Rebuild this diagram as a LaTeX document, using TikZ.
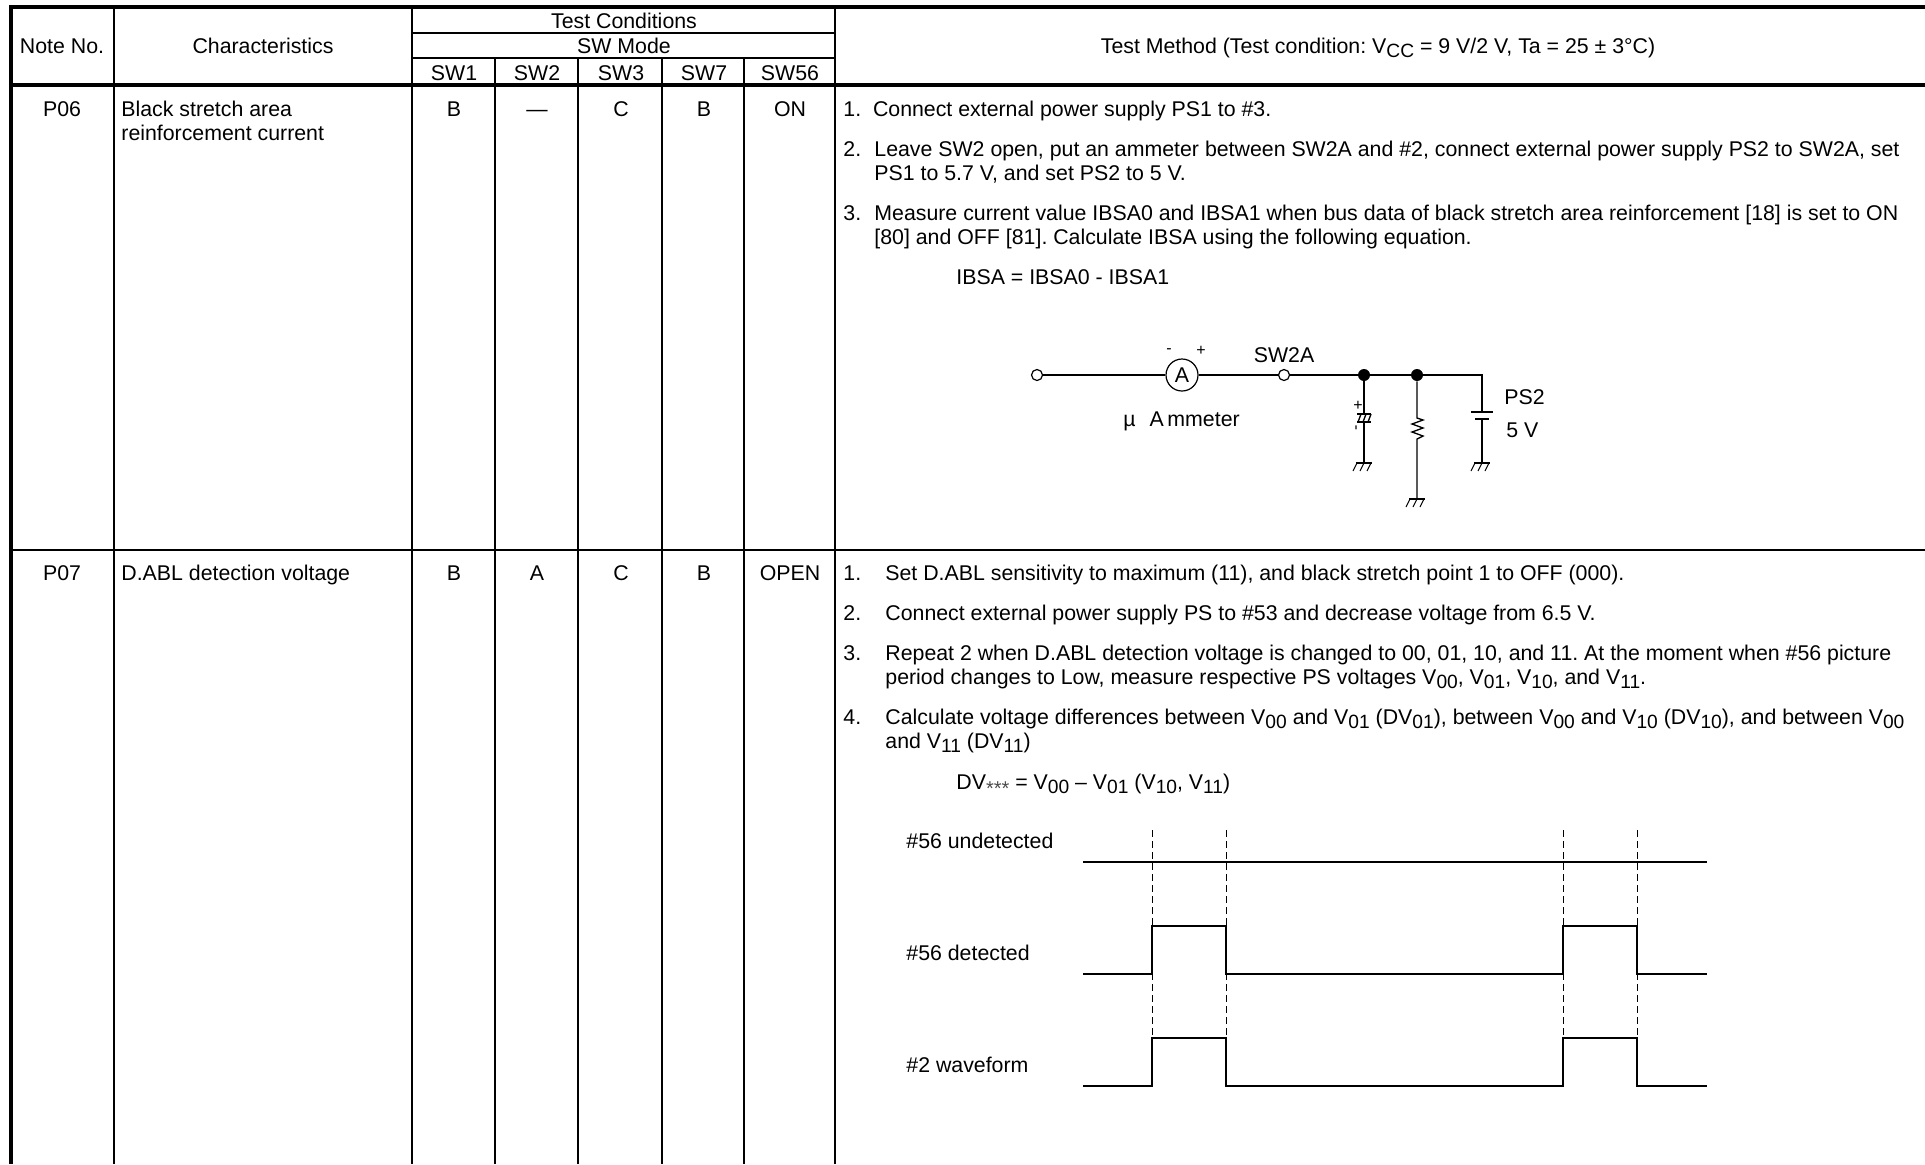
\documentclass[tikz,border=0pt]{standalone}
\usepackage{fontspec}
\setmainfont{Liberation Sans}
\usetikzlibrary{positioning}
\usetikzlibrary{calc}
\newcommand{\subs}[1]{\raisebox{-0.4ex}{\fontsize{9.6}{10}\selectfont #1}}
\frenchspacing

\begin{document}
\begin{tikzpicture}[x=0.5pt, y=-0.5pt,
txt/.style={font=\fontsize{10.66}{12}\selectfont, inner sep=0pt, anchor=base west, yshift=-0.6pt},
mid/.style={font=\fontsize{10.66}{12}\selectfont, inner sep=0pt, anchor=base, yshift=-0.6pt},
small/.style={font=\fontsize{8}{9}\selectfont, inner sep=0pt},
thin rule/.style={line width=0.95pt},
thick rule/.style={line width=1.9pt},
wave/.style={line width=1.4pt},
guide/.style={line width=0.45pt, dash pattern=on 3.5pt off 2pt},
wire/.style={line width=0.65pt},
plate/.style={line width=1.1pt},
term/.style={circle,draw,line width=0.6pt,fill=white,inner sep=0pt,minimum size=5.5pt},
dot/.style={circle,fill,inner sep=0pt,minimum size=6pt},
gnd/.pic={
  \draw[line width=0.8pt] (-8,0) -- (8,0);
  \draw[line width=0.5pt] (-7,0) -- (-11,8);
  \draw[line width=0.5pt] (0,0) -- (-4,8);
  \draw[line width=0.5pt] (7,0) -- (3,8);
}]
\useasboundingbox (0,0) rectangle (1925,1164);

% table rules
\draw[thick rule] (1925,7) -- (11,7) -- (11,1164);
\draw[thick rule] (11,85) -- (1925,85);
\draw[thin rule] (11,550) -- (1925,550);
\draw[thin rule] (412,33) -- (835,33);
\draw[thin rule] (412,58) -- (835,58);
\draw[thin rule] (114,7) -- (114,1164);
\draw[thin rule] (412,7) -- (412,1164);
\draw[thin rule] (495,58) -- (495,1164);
\draw[thin rule] (578,58) -- (578,1164);
\draw[thin rule] (662,58) -- (662,1164);
\draw[thin rule] (744,58) -- (744,1164);
\draw[thin rule] (835,7) -- (835,1164);

% header
\node [mid](notehead) at (62,52) {Note No.};
\node [mid](charhead) at (263,52) {Characteristics};
\node [mid](condhead) at (624,27) {Test Conditions};
\node [mid](modehead) at (624,52) {SW Mode};
\node [mid](sw1) at (454,79) {SW1};
\node [mid](sw2) at (537,79) {SW2};
\node [mid](sw3) at (621,79) {SW3};
\node [mid](sw7) at (704,79) {SW7};
\node [mid](sw56) at (790,79) {SW56};
\node [mid](methodhead) at (1378,52) {Test Method (Test condition: V\subs{CC} = 9 V/2 V, Ta = 25 ± 3°C)};

% row P06
\node [mid](p06) at (62,115) {P06};
\node [txt](bsa) at (121,115) {Black stretch area};
\node [txt](rc) at (121,139) {reinforcement current};
\node [mid](p06a) at (454,115) {B};
\node [mid](p06b) at (537,115) {—};
\node [mid](p06c) at (621,115) {C};
\node [mid](p06d) at (704,115) {B};
\node [mid](p06e) at (790,115) {ON};
\node [txt](s1) at (843,115) {1.\ \ Connect external power supply PS1 to \#3.};
\node [txt](s2) at (843,155) {2.};
\node [txt](s2a) at (874,155) {Leave SW2 open, put an ammeter between SW2A and \#2, connect external power supply PS2 to SW2A, set};
\node [txt](s2b) at (874,179) {PS1 to 5.7 V, and set PS2 to 5 V.};
\node [txt](s3) at (843,219) {3.};
\node [txt](s3a) at (874,219) {Measure current value IBSA0 and IBSA1 when bus data of black stretch area reinforcement [18] is set to ON};
\node [txt](s3b) at (874,243) {[80] and OFF [81]. Calculate IBSA using the following equation.};
\node [txt](eqa) at (956,283) {IBSA = IBSA0 - IBSA1};

% circuit
\node [term](in) at (1037,375) {};
\node [circle,draw,line width=0.6pt,fill=white,inner sep=0pt,minimum size=16pt,font=\fontsize{10.66}{12}\selectfont](meter) at (1182,375) {A};
\node [term](sw) at (1284,375) {};
\node [dot](j1) at (1364,375) {};
\node [dot](j2) at (1417,375) {};
\coordinate (corner) at (1482,375);
\coordinate (captop) at (1364,414);
\coordinate (capbot) at (1364,422);
\coordinate (g1) at (1364,463);
\coordinate (rtop) at (1417,418);
\coordinate (rbot) at (1417,439);
\coordinate (g2) at (1417,499);
\coordinate (battop) at (1482,412);
\coordinate (batbot) at (1482,419);
\coordinate (g3) at (1482,463);
\draw[wire] (in) -- (meter) -- (sw) -- (j1) -- (j2) -- (corner) -- (battop);
\draw[wire] (batbot) -- (g3);
\draw[wire] (j1) -- (captop);
\draw[wire] (capbot) -- (g1);
\draw[wire] (j2) -- (rtop) -- ++(6,2) -- ++(-11,4) -- ++(11,4) -- ++(-11,4) -- ++(11,4) -- ++(-6,3) -- (rbot) -- (g2);
\draw[plate] ($(battop)+(-11,0)$) -- ($(battop)+(11,0)$);
\draw[plate] ($(batbot)+(-7,0)$) -- ($(batbot)+(7,0)$);
\draw[plate] ($(captop)+(-7,0)$) -- ($(captop)+(7,0)$);
\draw[plate] ($(capbot)+(-7,0)$) -- ($(capbot)+(7,0)$);
\draw[wire] ($(capbot)+(-6,0)$) -- ($(captop)+(-3,0)$);
\draw[wire] ($(capbot)+(-1,0)$) -- ($(captop)+(2,0)$);
\draw[wire] ($(capbot)+(4,0)$) -- ($(captop)+(7,0)$);
\pic at (g1) {gnd};
\pic at (g2) {gnd};
\pic at (g3) {gnd};

% circuit labels
\node [small](mminus) at (1169,351) {-};
\node [small](mplus) at (1201,351) {+};
\node [mid](swlabel) at (1284,361) {SW2A};
\node [txt](ammeter) at (1123,425) {µ\hspace{7pt}A\,mmeter};
\node [txt](pslabel) at (1504,403) {PS2};
\node [txt](pslabelv) at (1506,436) {5 V};
\node [small](cplus) at (1358,406) {+};
\node [small,rotate=90](cminus) at (1358,428) {-};

% row P07
\node [mid](p07) at (62,579) {P07};
\node [txt](dabl) at (121,579) {D.ABL detection voltage};
\node [mid](p07a) at (454,579) {B};
\node [mid](p07b) at (537,579) {A};
\node [mid](p07c) at (621,579) {C};
\node [mid](p07d) at (704,579) {B};
\node [mid](p07e) at (790,579) {OPEN};
\node [txt](t1) at (843,579) {1.};
\node [txt](t1a) at (885,579) {Set D.ABL sensitivity to maximum (11), and black stretch point 1 to OFF (000).};
\node [txt](t2) at (843,619) {2.};
\node [txt](t2a) at (885,619) {Connect external power supply PS to \#53 and decrease voltage from 6.5 V.};
\node [txt](t3) at (843,659) {3.};
\node [txt](t3a) at (885,659) {Repeat 2 when D.ABL detection voltage is changed to 00, 01, 10, and 11. At the moment when \#56 picture};
\node [txt](t3b) at (885,683) {period changes to Low, measure respective PS voltages V\subs{00}, V\subs{01}, V\subs{10}, and V\subs{11}.};
\node [txt](t4) at (843,723) {4.};
\node [txt](t4a) at (885,723) {Calculate voltage differences between V\subs{00} and V\subs{01} (DV\subs{01}), between V\subs{00} and V\subs{10} (DV\subs{10}), and between V\subs{00}};
\node [txt](t4b) at (885,747) {and V\subs{11} (DV\subs{11})};
\node [txt](eqb) at (956,788) {DV{\raisebox{-0.6ex}{\fontsize{10}{11}\selectfont\color{black!70}***}} = V\subs{00} – V\subs{01} (V\subs{10}, V\subs{11})};

% waveforms
\node [txt](wlabela) at (906,847) {\#56 undetected};
\node [txt](wlabelb) at (906,959) {\#56 detected};
\node [txt](wlabelc) at (906,1071) {\#2 waveform};
\draw[guide] (1152,830) -- (1152,1037);
\draw[guide] (1226,830) -- (1226,1037);
\draw[guide] (1563,830) -- (1563,1037);
\draw[guide] (1637,830) -- (1637,1037);
\draw[wave] (1083,862) -- (1707,862);
\draw[wave] (1083,974) -- (1152,974) -- (1152,926) -- (1226,926) -- (1226,974) -- (1563,974) -- (1563,926) -- (1637,926) -- (1637,974) -- (1707,974);
\draw[wave] (1083,1086) -- (1152,1086) -- (1152,1038) -- (1226,1038) -- (1226,1086) -- (1563,1086) -- (1563,1038) -- (1637,1038) -- (1637,1086) -- (1707,1086);
\end{tikzpicture}
\end{document}
